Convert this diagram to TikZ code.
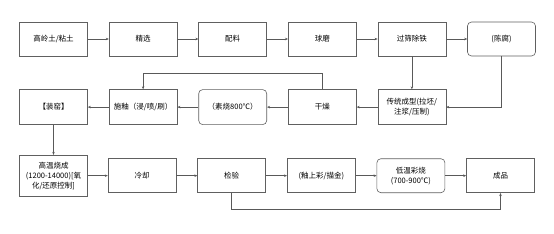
\documentclass[tikz,border=0pt]{standalone}
\usepackage{fontspec}
\setmainfont{Noto Sans CJK SC}
\usetikzlibrary{positioning, arrows.meta}

\begin{document}
\begin{tikzpicture}[
  stepbox/.style={draw=gray!75!black, line width=0.6pt, rectangle, minimum width=68pt, minimum height=34pt, align=center, inner sep=2pt, font=\fontsize{7.5}{10}\selectfont},
  softbox/.style={stepbox, rounded corners=4pt},
  arrow/.style={-{Stealth[length=3pt, width=2.5pt]}, gray!70!black, line width=0.6pt}
]
\useasboundingbox (0,0) rectangle (554pt,-233pt);
% row 1
\node[stepbox] (clay) at (53.5pt,-39pt) {高岭土/粘土};
\node[stepbox, right=21pt of clay] (select) {精选};
\node[stepbox, right=21pt of select] (batch) {配料};
\node[stepbox, right=21pt of batch] (mill) {球磨};
\node[stepbox, right=21pt of mill] (sieve) {过筛除铁};
\node[softbox, right=21pt of sieve] (aging) {(陈腐)};
% row 2
\node[stepbox, below=33pt of sieve, minimum height=35pt] (shape) {传统成型(拉坯/\\注浆/压制)};
\node[stepbox, left=21pt of shape, minimum height=35pt] (dry) {干燥};
\node[softbox, left=21pt of dry, minimum height=35pt] (bisque) {（素烧800℃）};
\node[stepbox, left=21pt of bisque, minimum height=35pt] (glaze) {施釉（浸/喷/刷）};
\node[stepbox, left=21pt of glaze, minimum height=35pt] (load) {【装窑】};
% row 3
\node[stepbox, below=30pt of load, minimum height=41pt] (fire) {高温烧成\\(1200-14000)[氧\\化/还原控制]};
\node[stepbox, right=20pt of fire] (cool) {冷却};
\node[stepbox, right=21pt of cool] (check) {检验};
\node[stepbox, right=21pt of check] (paint) {(釉上彩/描金)};
\node[softbox, right=21pt of paint] (lowfire) {低温彩烧\\(700-900℃)};
\node[stepbox, right=21pt of lowfire] (done) {成品};
% connectors
\draw[arrow] (clay) -- (select);
\draw[arrow] (select) -- (batch);
\draw[arrow] (batch) -- (mill);
\draw[arrow] (mill) -- (sieve);
\draw[arrow] (sieve) -- (aging);
\draw[arrow] (sieve) -- (shape);
\draw[arrow] (aging.south) |- (shape.east);
\draw[arrow] (shape) -- (dry);
\draw[arrow] (dry) -- (bisque);
\draw[arrow] (dry.north) -- ++(0,16pt) -| (glaze.north);
\draw[arrow] (bisque) -- (glaze);
\draw[arrow] (glaze) -- (load);
\draw[arrow] (load) -- (fire);
\draw[arrow] (fire) -- (cool);
\draw[arrow] (cool) -- (check);
\draw[arrow] (check) -- (paint);
\draw[arrow] (paint) -- (lowfire);
\draw[arrow] (lowfire) -- (done);
\draw[arrow] (check.south) -- ++(0,-16pt) -| (done.south);
\end{tikzpicture}
\end{document}
